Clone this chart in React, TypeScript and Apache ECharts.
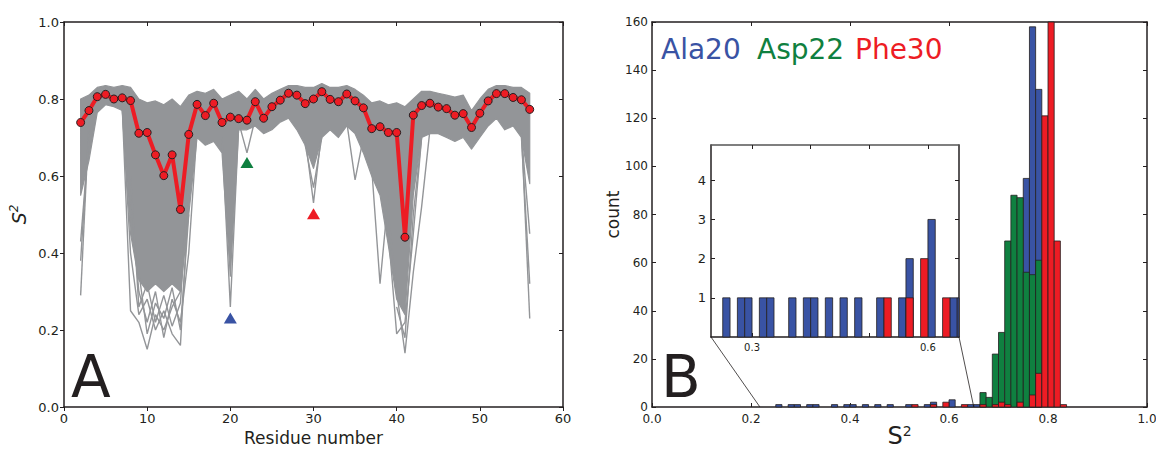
import React, { useEffect, useRef } from "react";
import * as echarts from "echarts";

// ---------- Panel A data ----------
const residues = [2,3,4,5,6,7,8,9,10,11,12,13,14,15,16,17,18,19,20,21,22,23,24,25,26,27,28,29,30,31,32,33,34,35,36,37,38,39,40,41,42,43,44,45,46,47,48,49,50,51,52,53,54,55,56];

const s2Mean = [
  0.739,0.770,0.806,0.812,0.800,0.803,0.796,0.711,0.713,0.655,
  0.601,0.655,0.513,0.708,0.786,0.757,0.789,0.739,0.753,0.749,
  0.745,0.793,0.750,0.780,0.797,0.815,0.810,0.788,0.800,0.819,
  0.799,0.793,0.813,0.795,0.777,0.723,0.728,0.713,0.713,0.441,
  0.758,0.783,0.789,0.779,0.775,0.758,0.762,0.726,0.763,0.795,
  0.814,0.814,0.804,0.798,0.773,
];

// upper edge of the ensemble of trajectories
const grayHigh = [
  0.80,0.81,0.83,0.835,0.83,0.835,0.83,0.80,0.79,0.795,
  0.785,0.80,0.78,0.81,0.82,0.815,0.825,0.80,0.81,0.82,
  0.80,0.825,0.80,0.815,0.825,0.835,0.835,0.83,0.83,0.84,
  0.83,0.83,0.835,0.825,0.81,0.79,0.795,0.785,0.79,0.78,
  0.80,0.82,0.82,0.815,0.81,0.805,0.81,0.77,0.80,0.825,
  0.835,0.835,0.83,0.83,0.815,
];

// lower edge of the dense part of the ensemble
const grayLow = [
  0.55,0.64,0.765,0.785,0.78,0.77,0.45,0.33,0.30,0.32,
  0.30,0.32,0.30,0.50,0.70,0.68,0.69,0.66,0.34,0.72,
  0.72,0.73,0.71,0.72,0.74,0.75,0.72,0.68,0.62,0.70,
  0.72,0.70,0.73,0.71,0.66,0.60,0.55,0.42,0.28,0.24,
  0.55,0.70,0.71,0.71,0.70,0.69,0.70,0.67,0.70,0.73,
  0.75,0.72,0.73,0.70,0.58,
];

// individual trajectories that reach below the dense band
const outlierRes2: number[][] = [[2,0.29],[3,0.74]];
const outlierRes2b: number[][] = [[2,0.38],[3,0.72]];
const outlierRes2c: number[][] = [[2,0.43],[3,0.70]];
const outlierDipA: number[][] = [[7,0.78],[8,0.25],[9,0.22],[10,0.15],[11,0.24],[12,0.20],[13,0.26],[14,0.30],[15,0.62]];
const outlierDipB: number[][] = [[7,0.78],[8,0.40],[9,0.24],[10,0.28],[11,0.20],[12,0.25],[13,0.19],[14,0.16],[15,0.55]];
const outlierDipC: number[][] = [[8,0.55],[9,0.30],[10,0.22],[11,0.30],[12,0.18],[13,0.28],[14,0.22],[15,0.40],[16,0.72]];
const outlierDipD: number[][] = [[8,0.60],[9,0.26],[10,0.32],[11,0.22],[12,0.29],[13,0.21],[14,0.27],[15,0.60]];
const outlierDipE: number[][] = [[9,0.35],[10,0.19],[11,0.27],[12,0.23],[13,0.31],[14,0.20],[15,0.50]];
const outlierRes20: number[][] = [[19,0.70],[20,0.26],[21,0.73]];
const outlierRes22: number[][] = [[21,0.74],[22,0.66],[23,0.75]];
const outlierRes30: number[][] = [[29,0.70],[30,0.53],[31,0.72]];
const outlierRes30b: number[][] = [[29,0.68],[30,0.57],[31,0.70]];
const outlierRes35: number[][] = [[34,0.74],[35,0.59],[36,0.70]];
const outlierRes38: number[][] = [[37,0.62],[38,0.32],[39,0.55]];
const outlierRes41a: number[][] = [[39,0.45],[40,0.19],[41,0.22],[42,0.45],[43,0.70]];
const outlierRes41b: number[][] = [[39,0.50],[40,0.30],[41,0.14],[42,0.35],[43,0.52],[44,0.72]];
const outlierRes41c: number[][] = [[40,0.26],[41,0.18],[42,0.50],[43,0.70]];
const outlierRes56a: number[][] = [[55,0.72],[56,0.23]];
const outlierRes56b: number[][] = [[55,0.70],[56,0.32]];
const outlierRes56c: number[][] = [[55,0.71],[56,0.45]];
const grayOutliers = [
  outlierRes2, outlierRes2b, outlierRes2c, outlierDipA, outlierDipB, outlierDipC, outlierDipD, outlierDipE,
  outlierRes20, outlierRes22, outlierRes30, outlierRes30b, outlierRes35, outlierRes38,
  outlierRes41a, outlierRes41b, outlierRes41c, outlierRes56a, outlierRes56b, outlierRes56c,
];

const markerNames = ["Ala20", "Asp22", "Phe30"];
const markerResidues = [20, 22, 30];
const markerS2 = [0.231, 0.635, 0.502];

// ---------- Panel B data (histogram, bin start values) ----------
const BIN_WIDTH = 0.0125;
const ala20Bins = [0.25,0.275,0.2875,0.3125,0.325,0.3625,0.3875,0.4,0.425,0.45,0.475,0.5125,0.55,0.5625,0.6,0.6375,0.65,0.75,0.7625,0.775];
const ala20Counts = [1,1,1,1,1,1,1,1,1,1,1,1,1,2,3,1,1,95,158,132];
const asp22Bins = [0.6625,0.675,0.6875,0.7,0.7125,0.725,0.7375,0.75,0.7625,0.775];
const asp22Counts = [6,4,22,31,69,88,87,56,55,61];
const phe30Bins = [0.525,0.5625,0.5875,0.625,0.6625,0.6875,0.7,0.7125,0.7375,0.7625,0.775,0.7875,0.8,0.8125,0.825];
const phe30Counts = [1,1,2,1,1,1,2,1,2,5,14,121,172,69,1];

const insetRange = [0.23, 0.653];
const insetMaxCount = 4.9;
const zoomFrom = [0.218, 0.65];

// ---------- styles ----------
const FONT = "'DejaVu Sans', 'Liberation Sans', sans-serif";
const INK = "#231f20";
const GRAY = "#939598";
const RED = "#ed1c24";
const BLUE = "#3953a4";
const GREEN = "#0f8040";
const markerColors = [BLUE, GREEN, RED];

function histSeries(name: string, bins: number[], counts: number[], color: string, axisIdx: number) {
  return {
    type: "custom",
    name,
    xAxisIndex: axisIdx,
    yAxisIndex: axisIdx,
    silent: true,
    data: bins.map((b, i) => [b, b + BIN_WIDTH, counts[i]]),
    encode: { x: [0, 1], y: 2 },
    renderItem: (params: any, api: any) => {
      const p0 = api.coord([api.value(0), api.value(2)]);
      const p1 = api.coord([api.value(1), 0]);
      const cs = params.coordSys;
      const rect = echarts.graphic.clipRectByRect(
        { x: p0[0], y: p0[1], width: p1[0] - p0[0], height: p1[1] - p0[1] },
        { x: cs.x, y: cs.y, width: cs.width, height: cs.height }
      );
      if (!rect) return null;
      return {
        type: "rect",
        shape: rect,
        style: { fill: color, stroke: INK, lineWidth: 0.8 },
      };
    },
  };
}

function frameAxis(base: any, extra: any) {
  return Object.assign(
    {
      type: "value",
      axisLine: { show: true, onZero: false, lineStyle: { color: INK, width: 1.5 } },
      splitLine: { show: false },
      axisLabel: { show: false },
      axisTick: { show: true, inside: true, length: 4, lineStyle: { color: INK, width: 1 } },
    },
    base,
    extra
  );
}

const tickLabel = (size: number, extra: any = {}) =>
  Object.assign({ show: true, color: INK, fontFamily: FONT, fontSize: size }, extra);

export default function App() {
  const ref = useRef<HTMLDivElement>(null);

  useEffect(() => {
    if (!ref.current) return;
    const chart = echarts.init(ref.current, undefined, { renderer: "svg" });

    const gridA = { left: 64, top: 22, width: 499, height: 385, containLabel: false, outerBoundsMode: "none" };
    const gridB = { left: 652, top: 22, width: 495, height: 385, containLabel: false, outerBoundsMode: "none" };
    const gridI = { left: 711, top: 145, width: 248, height: 192, containLabel: false, outerBoundsMode: "none" };

    const axA = { gridIndex: 0, min: 0, max: 60, interval: 10 };
    const ayA = { gridIndex: 0, min: 0, max: 1, interval: 0.2 };
    const axB = { gridIndex: 1, min: 0, max: 1, interval: 0.2 };
    const ayB = { gridIndex: 1, min: 0, max: 160, interval: 20 };
    const axI = { gridIndex: 2, min: insetRange[0], max: insetRange[1] };
    const ayI = { gridIndex: 2, min: 0, max: insetMaxCount };

    const option: any = {
      animation: false,
      backgroundColor: "#ffffff",
      grid: [gridA, gridB, gridI],
      xAxis: [
        frameAxis(axA, {
          position: "bottom",
          axisTick: { show: true, inside: false, length: 4, lineStyle: { color: INK } },
          axisLabel: tickLabel(13, { margin: 5 }),
          name: "Residue number",
          nameLocation: "middle",
          nameGap: 22,
          nameTextStyle: { color: INK, fontFamily: FONT, fontSize: 17 },
        }),
        frameAxis(axA, { position: "top" }),
        frameAxis(axB, {
          position: "bottom",
          axisLabel: tickLabel(12, { margin: 6, formatter: (v: number) => v.toFixed(1) }),
          name: "{m|S}{s|2}",
          nameLocation: "middle",
          nameMoveOverlap: false,
          nameGap: 17,
          nameTextStyle: {
            rich: {
              m: { fontFamily: FONT, fontSize: 24, color: INK, lineHeight: 24 },
              s: { fontFamily: FONT, fontSize: 14, color: INK, verticalAlign: "top", lineHeight: 24 },
            },
          },
        }),
        frameAxis(axB, { position: "top" }),
        frameAxis(axI, {
          position: "bottom",
          axisTick: { show: true, inside: true, length: 4, customValues: [0.3, 0.4, 0.5, 0.6], lineStyle: { color: INK } },
          axisLabel: tickLabel(10, { margin: 5, customValues: [0.3, 0.6], formatter: (v: number) => v.toFixed(1) }),
        }),
        frameAxis(axI, {
          position: "top",
          axisTick: { show: true, inside: true, length: 4, customValues: [0.3, 0.4, 0.5, 0.6], lineStyle: { color: INK } },
          axisLine: { show: true, onZero: false, lineStyle: { color: "#555", width: 1.5 } },
        }),
      ],
      yAxis: [
        frameAxis(ayA, {
          position: "left",
          axisTick: { show: true, inside: false, length: 4, lineStyle: { color: INK } },
          axisLabel: tickLabel(13, { margin: 5, formatter: (v: number) => v.toFixed(1) }),
          name: "{i|S}{s|2}",
          nameLocation: "middle",
          nameRotate: 90,
          nameGap: 34,
          nameTextStyle: {
            rich: {
              i: { fontFamily: FONT, fontSize: 19, fontStyle: "italic", color: INK, lineHeight: 22 },
              s: { fontFamily: FONT, fontSize: 12, fontStyle: "italic", color: INK, verticalAlign: "top", lineHeight: 22 },
            },
          },
        }),
        frameAxis(ayA, { position: "right" }),
        frameAxis(ayB, {
          position: "left",
          axisLabel: tickLabel(12, { margin: 4 }),
          name: "count",
          nameLocation: "middle",
          nameRotate: 90,
          nameGap: 27,
          nameTextStyle: { color: INK, fontFamily: FONT, fontSize: 17 },
        }),
        frameAxis(ayB, { position: "right" }),
        frameAxis(ayI, {
          position: "left",
          axisTick: { show: true, inside: true, length: 4, customValues: [1, 2, 3, 4], lineStyle: { color: INK } },
          axisLabel: tickLabel(13, { margin: 5, customValues: [1, 2, 3, 4] }),
        }),
        frameAxis(ayI, {
          position: "right",
          axisTick: { show: true, inside: true, length: 4, customValues: [1, 2, 3, 4], lineStyle: { color: INK } },
        }),
      ],
      series: [
        {
          type: "custom",
          name: "ensemble",
          xAxisIndex: 0,
          yAxisIndex: 0,
          silent: true,
          z: 1,
          data: residues.map((r, i) => [r, grayLow[i], grayHigh[i]]),
          encode: { x: 0, y: [1, 2] },
          renderItem: (params: any, api: any) => {
            if (params.dataIndex !== 0) return null;
            const pts: number[][] = [];
            for (let i = 0; i < residues.length; i++) pts.push(api.coord([residues[i], grayHigh[i]]));
            for (let i = residues.length - 1; i >= 0; i--) pts.push(api.coord([residues[i], grayLow[i]]));
            return {
              type: "polygon",
              shape: { points: pts },
              style: { fill: GRAY, stroke: GRAY, lineWidth: 1.2, lineJoin: "round" },
            };
          },
        },
        ...grayOutliers.map((pts, k) => ({
          type: "line",
          name: "traj" + k,
          xAxisIndex: 0,
          yAxisIndex: 0,
          silent: true,
          z: 2,
          symbol: "none",
          data: pts,
          lineStyle: { color: GRAY, width: 1.4, opacity: 1 },
        })),
        {
          type: "line",
          name: "mean",
          xAxisIndex: 0,
          yAxisIndex: 0,
          z: 5,
          data: residues.map((r, i) => [r, s2Mean[i]]),
          symbol: "circle",
          symbolSize: 8,
          lineStyle: { color: RED, width: 4, opacity: 1 },
          itemStyle: { color: RED, borderColor: INK, borderWidth: 1, opacity: 1 },
        },
        {
          type: "scatter",
          name: "markers",
          xAxisIndex: 0,
          yAxisIndex: 0,
          z: 6,
          symbol: "triangle",
          symbolSize: [13, 11],
          itemStyle: { opacity: 1 },
          data: markerResidues.map((r, i) => ({
            name: markerNames[i],
            value: [r, markerS2[i]],
            itemStyle: { color: markerColors[i], opacity: 1 },
          })),
        },
        histSeries("Ala20", ala20Bins, ala20Counts, BLUE, 2),
        histSeries("Asp22", asp22Bins, asp22Counts, GREEN, 2),
        histSeries("Phe30", phe30Bins, phe30Counts, RED, 2),
        histSeries("Ala20 inset", ala20Bins, ala20Counts, BLUE, 4),
        histSeries("Asp22 inset", asp22Bins, asp22Counts, GREEN, 4),
        histSeries("Phe30 inset", phe30Bins, phe30Counts, RED, 4),
      ],
      graphic: [
        { type: "text", id: "letterA", x: 71, y: 377, style: { text: "A", font: `58px ${FONT}`, fill: INK, align: "left", verticalAlign: "middle" } },
        { type: "text", id: "letterB", x: 661, y: 377, style: { text: "B", font: `58px ${FONT}`, fill: INK, align: "left", verticalAlign: "middle" } },
        { type: "text", id: "lg0", x: 661, y: 49, style: { text: markerNames[0], font: `28px ${FONT}`, fill: BLUE, align: "left", verticalAlign: "middle" } },
        { type: "text", id: "lg1", x: 757, y: 49, style: { text: markerNames[1], font: `28px ${FONT}`, fill: GREEN, align: "left", verticalAlign: "middle" } },
        { type: "text", id: "lg2", x: 855, y: 49, style: { text: markerNames[2], font: `28px ${FONT}`, fill: RED, align: "left", verticalAlign: "middle" } },
      ],
    };

    chart.setOption(option);

    // connector lines from the main axis to the inset corners
    const a0 = chart.convertToPixel({ xAxisIndex: 2, yAxisIndex: 2 } as any, [zoomFrom[0], 0]) as number[];
    const a1 = chart.convertToPixel({ xAxisIndex: 2, yAxisIndex: 2 } as any, [zoomFrom[1], 0]) as number[];
    const c0 = chart.convertToPixel({ xAxisIndex: 4, yAxisIndex: 4 } as any, [insetRange[0], 0]) as number[];
    const c1 = chart.convertToPixel({ xAxisIndex: 4, yAxisIndex: 4 } as any, [insetRange[1], 0]) as number[];
    if (a0 && a1 && c0 && c1) {
      chart.setOption({
        graphic: [
          { type: "line", id: "conn0", z: 10, shape: { x1: c0[0], y1: c0[1], x2: a0[0], y2: a0[1] }, style: { stroke: INK, lineWidth: 0.8 } },
          { type: "line", id: "conn1", z: 10, shape: { x1: c1[0], y1: c1[1], x2: a1[0], y2: a1[1] }, style: { stroke: INK, lineWidth: 0.8 } },
        ],
      });
    }

    return () => chart.dispose();
  }, []);

  return (
    <div
      ref={ref}
      style={{ position: "absolute", left: 0, top: 0, width: 1156, height: 451, background: "#fff" }}
    />
  );
}
